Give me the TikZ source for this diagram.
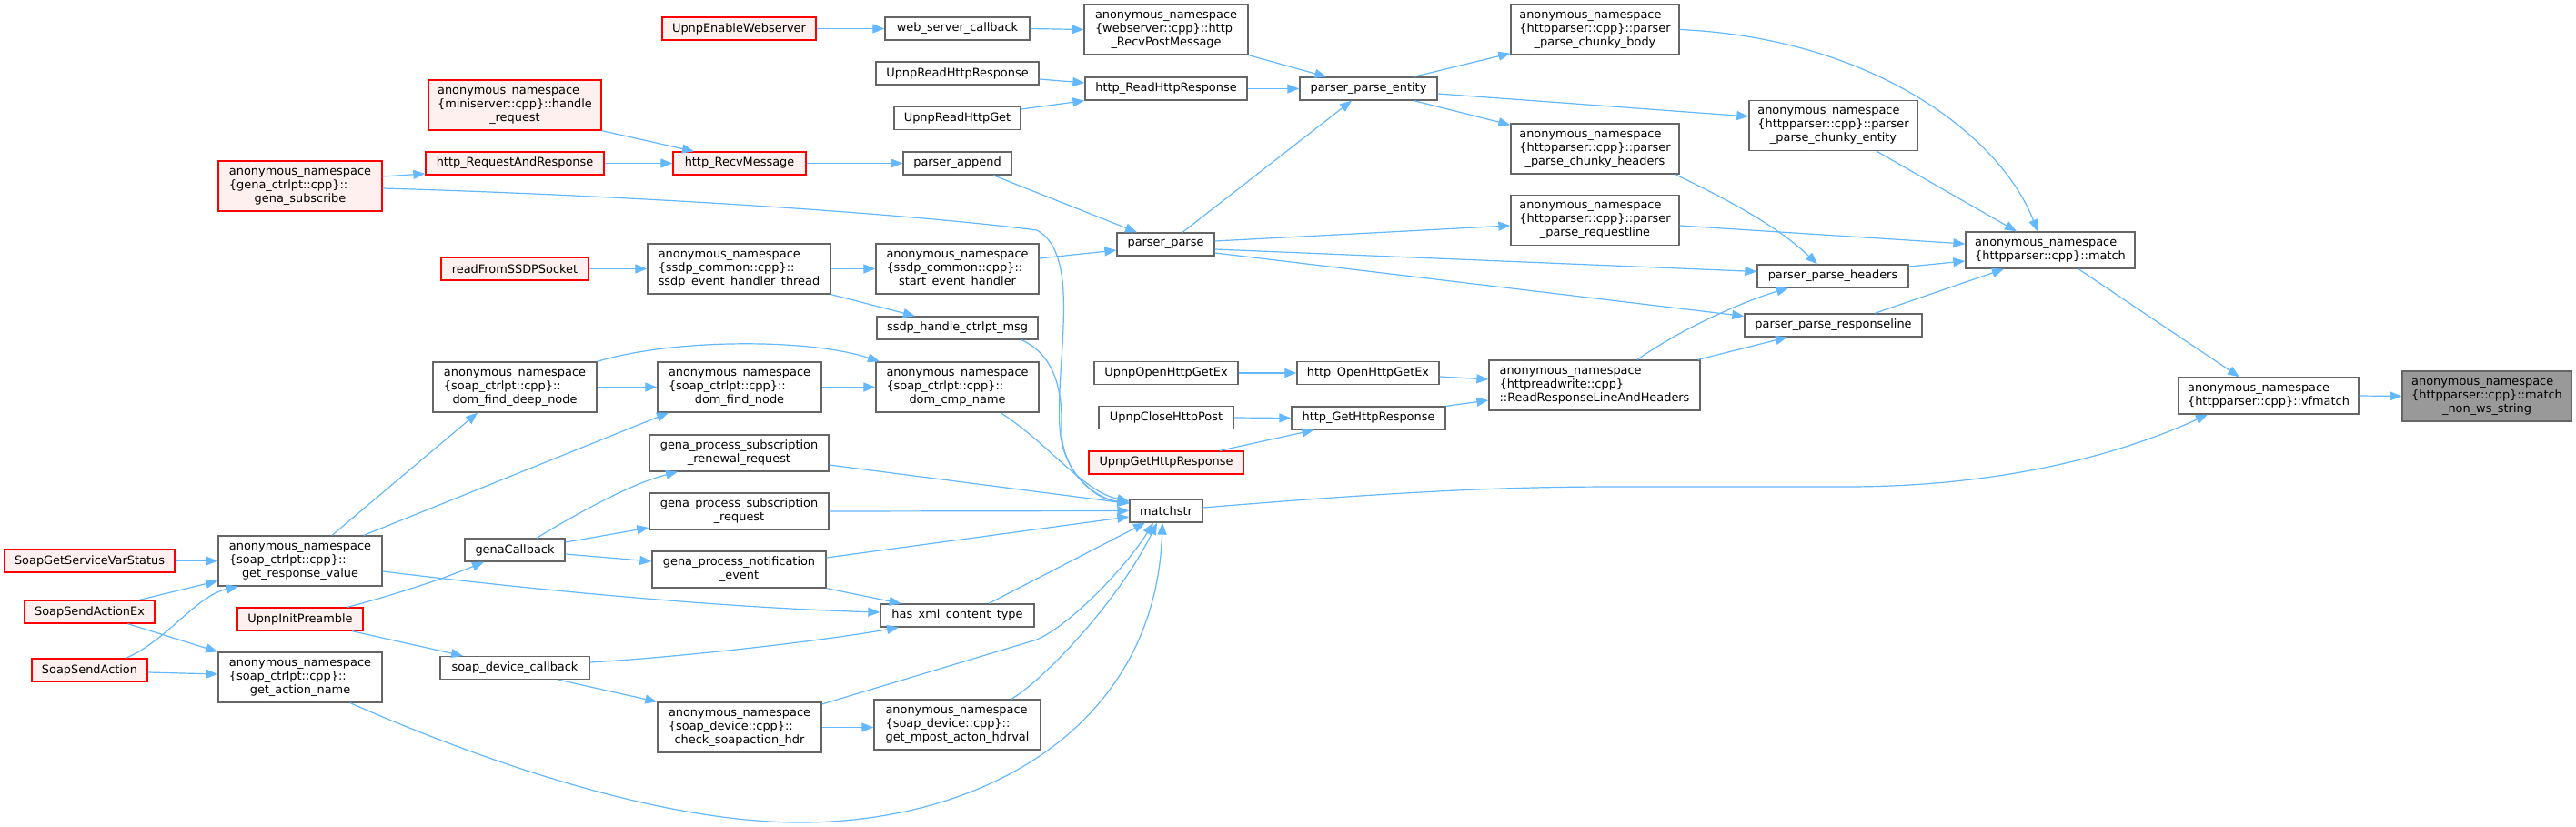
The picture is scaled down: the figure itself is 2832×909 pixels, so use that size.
\documentclass[tikz,border=0pt]{standalone}
\usepackage{fontspec}
\usetikzlibrary{arrows.meta}
\newfontfamily\doxfont{DejaVu Sans}
\definecolor{edgeblue}{HTML}{63B8FF}
\definecolor{nodegray}{HTML}{666666}
\definecolor{redb}{HTML}{FF0000}
\definecolor{redfill}{HTML}{FFF0F0}
\definecolor{targetfill}{HTML}{999999}
\newcommand\doxtwo[2]{\begin{tabular}{@{}l@{}}#1\\\multicolumn{1}{@{}c@{}}{#2}\end{tabular}}
\newcommand\doxthree[3]{\begin{tabular}{@{}l@{}}#1\\#2\\\multicolumn{1}{@{}c@{}}{#3}\end{tabular}}
\tikzset{
  fn/.style={draw=nodegray, fill=white, line width=1.3pt, inner sep=0pt, align=center,
    font=\doxfont\fontsize{12.9}{15}\selectfont},
  redn/.style={draw=redb, fill=redfill},
  targetn/.style={fill=targetfill},
  sz/.style 2 args={minimum width=#1pt, minimum height=#2pt},
  edge/.style={draw=edgeblue, line width=1.2pt, -{Triangle[length=13pt,width=10pt]}}
}
\begin{document}
\begin{tikzpicture}[x=1pt,y=-1pt]
\useasboundingbox[fill=white] (0,0) rectangle (2832,909);
% column 1
\node[fn,redn,sz={187}{25}] (sgsvs) at (98.5,616.5) {SoapGetServiceVarStatus};
\node[fn,redn,sz={143}{25}] (ssaex) at (98.5,672.5) {SoapSendActionEx};
\node[fn,redn,sz={127}{25}] (ssa) at (98.5,736.5) {SoapSendAction};
% column 2
\node[fn,redn,sz={180}{55}] (gsub) at (330,204.5) {\doxthree{anonymous\_namespace}{\{gena\_ctrlpt::cpp\}::}{gena\_subscribe}};
\node[fn,sz={180}{55}] (grv) at (330,616.5) {\doxthree{anonymous\_namespace}{\{soap\_ctrlpt::cpp\}::}{get\_response\_value}};
\node[fn,redn,sz={138}{25}] (uip) at (330,680.5) {UpnpInitPreamble};
\node[fn,sz={180}{55}] (gan) at (330,744.5) {\doxthree{anonymous\_namespace}{\{soap\_ctrlpt::cpp\}::}{get\_action\_name}};
% column 3
\node[fn,redn,sz={190}{55}] (hreq) at (566,115.5) {\doxthree{anonymous\_namespace}{\{miniserver::cpp\}::handle}{\_request}};
\node[fn,redn,sz={196}{25}] (hrar) at (566,179.5) {http\_RequestAndResponse};
\node[fn,redn,sz={162}{25}] (rfss) at (566,295.5) {readFromSSDPSocket};
\node[fn,sz={180}{55}] (dfdn) at (566,425.5) {\doxthree{anonymous\_namespace}{\{soap\_ctrlpt::cpp\}::}{dom\_find\_deep\_node}};
\node[fn,sz={110}{25}] (gcb) at (566,604.5) {genaCallback};
\node[fn,sz={164}{25}] (sdcb) at (566,734) {soap\_device\_callback};
% column 4
\node[fn,redn,sz={169}{25}] (uew) at (812.5,31.5) {UpnpEnableWebserver};
\node[fn,redn,sz={146}{25}] (hrm) at (813,179.5) {http\_RecvMessage};
\node[fn,sz={201}{55}] (seht) at (812.5,295.5) {\doxthree{anonymous\_namespace}{\{ssdp\_common::cpp\}::}{ssdp\_event\_handler\_thread}};
\node[fn,sz={180}{55}] (dfn) at (813,425.5) {\doxthree{anonymous\_namespace}{\{soap\_ctrlpt::cpp\}::}{dom\_find\_node}};
\node[fn,sz={197}{40}] (gpsrr) at (812.5,498) {\doxtwo{gena\_process\_subscription}{\_renewal\_request}};
\node[fn,sz={197}{40}] (gpsr) at (812.5,562) {\doxtwo{gena\_process\_subscription}{\_request}};
\node[fn,sz={191}{40}] (gpne) at (812.5,626) {\doxtwo{gena\_process\_notification}{\_event}};
\node[fn,sz={180}{55}] (csh) at (813,799.5) {\doxthree{anonymous\_namespace}{\{soap\_device::cpp\}::}{check\_soapaction\_hdr}};
% column 5
\node[fn,sz={159}{25}] (wsc) at (1052.5,31.5) {web\_server\_callback};
\node[fn,sz={179}{25}] (urhr) at (1052.5,80.5) {UpnpReadHttpResponse};
\node[fn,sz={139}{25}] (urhg) at (1052.5,130) {UpnpReadHttpGet};
\node[fn,sz={119}{25}] (pap) at (1052.5,179.5) {parser\_append};
\node[fn,sz={179}{55}] (seh) at (1052.5,295.5) {\doxthree{anonymous\_namespace}{\{ssdp\_common::cpp\}::}{start\_event\_handler}};
\node[fn,sz={177}{25}] (shcm) at (1052.5,360.5) {ssdp\_handle\_ctrlpt\_msg};
\node[fn,sz={179}{55}] (dcn) at (1052.5,425.5) {\doxthree{anonymous\_namespace}{\{soap\_ctrlpt::cpp\}::}{dom\_cmp\_name}};
\node[fn,sz={169}{25}] (hxct) at (1052.5,676.5) {has\_xml\_content\_type};
\node[fn,sz={183}{55}] (gmah) at (1052.5,796.5) {\doxthree{anonymous\_namespace}{\{soap\_device::cpp\}::}{get\_mpost\_acton\_hdrval}};
% column 6
\node[fn,sz={180}{55}] (hrpm) at (1282,32.5) {\doxthree{anonymous\_namespace}{\{webserver::cpp\}::http}{\_RecvPostMessage}};
\node[fn,sz={178}{25}] (hrhr) at (1282,97.5) {http\_ReadHttpResponse};
\node[fn,sz={107}{25}] (pp) at (1281.5,268.5) {parser\_parse};
\node[fn,sz={158}{25}] (uohg) at (1282,410) {UpnpOpenHttpGetEx};
\node[fn,sz={148}{25}] (uchp) at (1282,459) {UpnpCloseHttpPost};
\node[fn,redn,sz={170}{25}] (ughr) at (1282,508.5) {UpnpGetHttpResponse};
\node[fn,sz={80}{25}] (ms) at (1282,561.5) {matchstr};
% column 7
\node[fn,sz={151}{25}] (ppe) at (1504.5,97.5) {parser\_parse\_entity};
\node[fn,sz={156}{25}] (hohg) at (1504,410) {http\_OpenHttpGetEx};
\node[fn,sz={169}{25}] (hghr) at (1504.5,459.5) {http\_GetHttpResponse};
% column 8
\node[fn,sz={185}{55}] (ppcb) at (1753.5,32.5) {\doxthree{anonymous\_namespace}{\{httpparser::cpp\}::parser}{\_parse\_chunky\_body}};
\node[fn,sz={185}{55}] (ppch) at (1753.5,163.5) {\doxthree{anonymous\_namespace}{\{httpparser::cpp\}::parser}{\_parse\_chunky\_headers}};
\node[fn,sz={185}{55}] (pprl) at (1753.5,242) {\doxthree{anonymous\_namespace}{\{httpparser::cpp\}::parser}{\_parse\_requestline}};
\node[fn,sz={232}{55}] (rrlh) at (1753,423.5) {\doxthree{anonymous\_namespace}{\{httpreadwrite::cpp\}}{::ReadResponseLineAndHeaders}};
% column 9
\node[fn,sz={185}{55}] (ppce) at (2015.5,138) {\doxthree{anonymous\_namespace}{\{httpparser::cpp\}::parser}{\_parse\_chunky\_entity}};
\node[fn,sz={166}{25}] (pph) at (2015,303.5) {parser\_parse\_headers};
\node[fn,sz={195}{25}] (pprs) at (2015.5,357.5) {parser\_parse\_responseline};
% columns 10-12
\node[fn,sz={186}{40}] (mt) at (2254,275) {\doxtwo{anonymous\_namespace}{\{httpparser::cpp\}::match}};
\node[fn,sz={198}{40}] (vfm) at (2494,435) {\doxtwo{anonymous\_namespace}{\{httpparser::cpp\}::vfmatch}};
\node[fn,targetn,sz={186}{55}] (mnws) at (2734,435.5) {\doxthree{anonymous\_namespace}{\{httpparser::cpp\}::match}{\_non\_ws\_string}};

% edges
\draw[edge] (uew.east) -- (wsc.west);
\draw[edge] (wsc.east) -- (hrpm.west);
\draw[edge] (hrpm.south east) -- ([xshift=30pt]ppe.north west);
\draw[edge] ([yshift=-6.5pt]urhr.east) -- ([yshift=6.5pt]hrhr.west);
\draw[edge] ([yshift=10pt]urhg.east) -- (hrhr.south west);
\draw[edge] (hrhr.east) -- (ppe.west);
\draw[edge] ([xshift=18.5pt]pp.north) -- ([xshift=-18.5pt]ppe.south);
\draw[edge] ([xshift=50pt]ppe.north) -- ([yshift=2pt]ppcb.south west);
\draw[edge] ([yshift=-5.5pt]ppe.east) -- ([yshift=10pt]ppce.west);
\draw[edge] ([xshift=50pt]ppe.south) -- ([yshift=-2pt]ppch.north west);
\draw[edge] (ppcb.east) .. controls (2060,42) and (2200,150) .. ([xshift=-14pt]mt.north);
\draw[edge] ([xshift=47.5pt]ppce.south) -- ([xshift=-37pt]mt.north);
\draw[edge] ([xshift=-5pt]ppch.south east) .. controls (1890,215) and (1950,245) .. ([xshift=-17pt]pph.north);
\draw[edge] ([yshift=-6pt]pprl.east) -- ([yshift=7pt]mt.west);
\draw[edge] ([yshift=3.5pt]pp.east) -- ([yshift=-6pt]pprl.west);
\draw[edge] ([yshift=-5.5pt]pp.east) -- ([yshift=5pt]pph.west);
\draw[edge] ([yshift=-9.5pt]pp.east) -- ([yshift=10pt]pprs.west);
\draw[edge] ([yshift=10.5pt]pph.east) -- ([yshift=-12pt]mt.west);
\draw[edge] ([xshift=45.5pt]pprs.north) -- ([xshift=-51pt]mt.south);
\draw[edge] ([xshift=47pt]rrlh.north) .. controls (1850,360) and (1920,330) .. ([xshift=-49pt]pph.south);
\draw[edge] ([xshift=-3pt]rrlh.north east) -- ([xshift=-50.5pt]pprs.south);
\draw[edge] ([yshift=-4pt]hohg.east) -- ([yshift=6.5pt]rrlh.west);
\draw[edge] (hghr.north east) -- ([yshift=-16.5pt]rrlh.west);
\draw[edge] (uohg.east) -- (hohg.west);
\draw[edge] (uchp.east) -- (hghr.west);
\draw[edge] ([xshift=59pt]ughr.north) -- ([xshift=25pt]hghr.south west);
\draw[edge] ([xshift=31pt]mt.south) -- ([xshift=-32pt]vfm.north);
\draw[edge] ([yshift=3.5pt]ms.east) .. controls (1600,535) and (1700,535) .. (1800,535) -- (2030,535) .. controls (2200,535) and (2330,500) .. ([xshift=-67pt]vfm.south);
\draw[edge] (vfm.east) -- (mnws.west);
\draw[edge] (hreq.south east) -- ([xshift=-50pt]hrm.north);
\draw[edge] (hrar.east) -- (hrm.west);
\draw[edge] ([yshift=10.5pt]gsub.east) -- ([yshift=-11.5pt]hrar.west);
\draw[edge] ([yshift=-2.5pt]gsub.east) .. controls (700,215) and (1000,235) .. (1140,253) .. controls (1190,280) and (1160,400) .. (1165,470) .. controls (1168,520) and (1205,550) .. ([yshift=9.5pt]ms.west);
\draw[edge] (hrm.east) -- (pap.west);
\draw[edge] ([xshift=39.5pt]pap.south) -- ([xshift=-31.5pt]pp.north);
\draw[edge] (rfss.east) -- (seht.west);
\draw[edge] (seht.east) -- (seh.west);
\draw[edge] (seht.south east) -- ([xshift=-46.5pt]shcm.north);
\draw[edge] ([yshift=11.5pt]seh.east) -- ([yshift=-6.5pt]pp.west);
\draw[edge] ([xshift=70.5pt]shcm.south) .. controls (1160,390) and (1168,430) .. (1167,470) .. controls (1166,520) and (1205,548) .. ([yshift=8.5pt]ms.west);
\draw[edge] (dfdn.north east) .. controls (740,372) and (890,372) .. ([xshift=-85.5pt]dcn.north);
\draw[edge] (dfdn.east) -- (dfn.west);
\draw[edge] (dfn.east) -- (dcn.west);
\draw[edge] ([xshift=47.5pt]dcn.south) .. controls (1150,485) and (1190,540) .. ([yshift=10.5pt]ms.west);
\draw[edge] ([xshift=35pt]grv.north) -- ([xshift=-41pt]dfdn.south);
\draw[edge] ([xshift=70pt]grv.north) -- ([xshift=-78pt]dfn.south);
\draw[edge] ([yshift=-11.5pt]grv.east) .. controls (600,650) and (800,668) .. ([yshift=3.5pt]hxct.west);
\draw[edge] ([xshift=24pt]gcb.north) .. controls (650,555) and (700,530) .. ([xshift=-67.5pt]gpsrr.south);
\draw[edge] ([yshift=8.5pt]gcb.east) -- ([yshift=-18pt]gpsr.west);
\draw[edge] ([yshift=-4.5pt]gcb.east) -- ([yshift=9pt]gpne.west);
\draw[edge] ([xshift=52pt]uip.north) .. controls (440,652) and (490,635) .. ([xshift=-34pt]gcb.south);
\draw[edge] ([xshift=57pt]uip.south) -- ([xshift=-57pt]sdcb.north);
\draw[edge] (sgsvs.east) -- (grv.west);
\draw[edge] ([xshift=55pt]ssaex.north) -- ([yshift=-22pt]grv.west);
\draw[edge] ([xshift=42pt]ssaex.south) -- (gan.north west);
\draw[edge] ([xshift=40pt]ssa.north) .. controls (185,703) and (215,655) .. ([xshift=-68pt]grv.south);
\draw[edge] ([yshift=-2.5pt]ssa.east) -- ([yshift=3.5pt]gan.west);
\draw[edge] ([xshift=55pt]gan.south) .. controls (520,832) and (720,904) .. (880,904) .. controls (1080,904) and (1270,800) .. ([xshift=-4pt]ms.south);
\draw[edge] ([yshift=6pt]sdcb.east) .. controls (750,722) and (900,705) .. ([xshift=-64.5pt]hxct.south);
\draw[edge] ([xshift=48pt]sdcb.south) -- (csh.north west);
\draw[edge] (csh.east) -- (csh.east -| gmah.west);
\draw[edge] ([yshift=25.5pt]csh.east) -- (1140,703) .. controls (1180,685) and (1240,620) .. ([xshift=-14pt]ms.south);
\draw[edge] ([xshift=59.5pt]gmah.north) .. controls (1150,745) and (1230,660) .. ([xshift=-10pt]ms.south);
\draw[edge] ([yshift=-13pt]gpsrr.east) -- ([yshift=8pt]ms.west);
\draw[edge] (gpsr.east) -- (ms.west);
\draw[edge] ([yshift=13pt]gpne.east) -- ([yshift=-6.5pt]ms.west);
\draw[edge] (gpne.south east) -- ([xshift=-62pt]hxct.north);
\draw[edge] ([xshift=34.5pt]hxct.north) -- ([xshift=-23pt]ms.south);
\end{tikzpicture}
\end{document}
